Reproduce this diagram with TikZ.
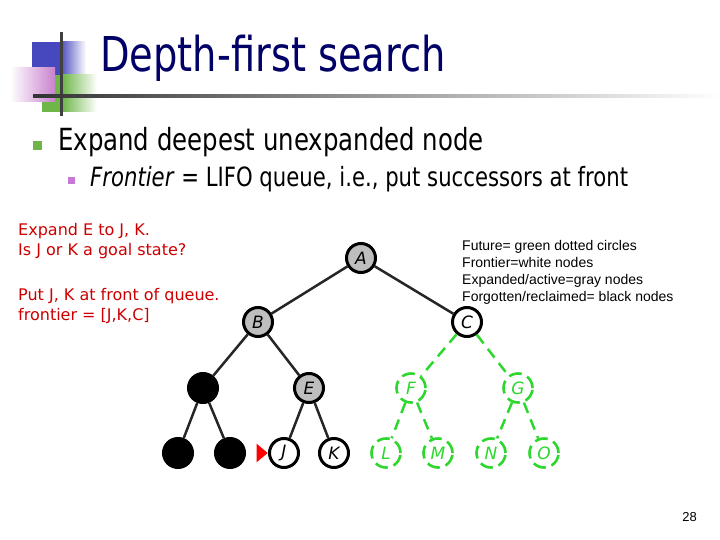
\documentclass[tikz,border=0pt]{standalone}
\usepackage{fontspec}
\setmainfont{DejaVu Sans}
\newfontfamily\narrowfont{DejaVu Sans}[FakeStretch=0.8]
\newfontfamily\legendfont{Liberation Sans}
\usetikzlibrary{arrows.meta,positioning,shapes.geometric}
\definecolor{titleblue}{RGB}{0,0,102}
\definecolor{noteRed}{RGB}{204,0,0}
\definecolor{futuregreen}{RGB}{45,215,45}
\definecolor{nodegray}{RGB}{190,190,190}
\definecolor{decoblue}{RGB}{72,72,190}
\definecolor{decogreen}{RGB}{110,182,72}
\definecolor{decopink}{RGB}{200,130,205}
\definecolor{bulletgreen}{RGB}{110,180,70}
\definecolor{bulletpink}{RGB}{200,120,215}
\newcommand\treeletter{\itshape\fontsize{17}{17}\selectfont}
\tikzset{
  expanded/.style={circle, draw=black, fill=nodegray, line width=3pt, minimum size=29pt, inner sep=0pt, font=\treeletter},
  frontier/.style={circle, draw=black, fill=white, line width=3pt, minimum size=29pt, inner sep=0pt, font=\treeletter},
  forgotten/.style={circle, draw=black, fill=black, line width=3pt, minimum size=29pt, inner sep=0pt},
  future/.style={circle, draw=futuregreen, text=futuregreen, dash pattern=on 13pt off 6pt, line width=2.6pt, minimum size=29pt, inner sep=0pt, font=\treeletter},
  treeedge/.style={line width=2.5pt, black!85},
  futureedge/.style={line width=2.5pt, futuregreen, dash pattern=on 11pt off 7pt},
  pointer/.style={isosceles triangle, isosceles triangle apex angle=80, fill=red, minimum height=11pt, inner sep=0pt},
  bullet/.style={rectangle, inner sep=0pt},
  note/.style={anchor=north west, inner sep=0pt, align=left, text=noteRed, font=\fontsize{16}{20}\selectfont},
  legend/.style={anchor=north west, inner sep=0pt, align=left, font=\legendfont\fontsize{14}{17}\selectfont}
}

\begin{document}
\begin{tikzpicture}[x=1pt, y=-1pt]
  \useasboundingbox (0,0) rectangle (720,540);
  % title decoration
  \fill[decoblue] (32,42) rectangle (60,75);
  \shade[left color=decoblue, right color=white] (60,42) rectangle (86,75);
  \fill[decogreen] (42,75) rectangle (62,112);
  \shade[left color=decogreen, right color=white] (62,75) rectangle (97,112);
  \shade[left color=white, right color=decopink] (10,68) rectangle (55,102);
  \fill[black!75] (60,32) rectangle (63,116);
  \shade[left color=black!80, right color=white] (33,95) rectangle (720,98);
  \node[anchor=base west, inner sep=0pt, text=titleblue, font=\narrowfont\fontsize{48}{50}\selectfont] (title) at (100,72) {Depth-first search};

  % bullets
  \node[bullet, fill=bulletgreen, minimum size=9pt] (dot1) at (37.5,145.5) {};
  \node[anchor=base west, inner sep=0pt, font=\narrowfont\fontsize{30.5}{31}\selectfont] (point) at (58,151) {Expand deepest unexpanded node};
  \node[bullet, fill=bulletpink, minimum size=7pt] (dot2) at (71.5,181) {};
  \node[anchor=base west, inner sep=0pt, font=\narrowfont\fontsize{26.5}{27}\selectfont] (subpoint) at (90,187) {\textit{Frontier} = LIFO queue, i.e., put successors at front};

  % notes
  \node[note] (step) at (18,223) {Expand E to J, K.\\Is J or K a goal state?};
  \node[note] (queue) at (18,288) {Put J, K at front of queue.\\frontier = [J,K,C]};
  \node[legend] (key) at (462,240) {Future= green dotted circles\\Frontier=white nodes\\Expanded/active=gray nodes\\Forgotten/reclaimed= black nodes};

  % tree
  \node[expanded] (a) at (361,258) {A};
  \node[expanded] (b) at (258,322) {B};
  \node[frontier] (c) at (467,322) {C};
  \node[forgotten] (d) at (203,388) {};
  \node[expanded] (e) at (309,388) {E};
  \node[future] (f) at (411,388) {F};
  \node[future] (g) at (518,388) {G};
  \node[forgotten] (h) at (178,453) {};
  \node[forgotten] (i) at (230,453) {};
  \node[frontier] (j) at (284,453) {J};
  \node[frontier] (k) at (334,453) {K};
  \node[future] (l) at (386,453) {L};
  \node[future] (m) at (438,453) {M};
  \node[future] (n) at (491,453) {N};
  \node[future] (o) at (544,453) {O};
  \draw[treeedge] (a)--(b); \draw[treeedge] (a)--(c);
  \draw[treeedge] (b)--(d); \draw[treeedge] (b)--(e);
  \draw[treeedge] (d)--(h); \draw[treeedge] (d)--(i);
  \draw[treeedge] (e)--(j); \draw[treeedge] (e)--(k);
  \draw[futureedge] (c)--(f); \draw[futureedge] (c)--(g);
  \draw[futureedge] (f)--(l); \draw[futureedge] (f)--(m);
  \draw[futureedge] (g)--(n); \draw[futureedge] (g)--(o);
  \node[pointer, left=0pt of j] (mark) {};

  \node[anchor=base east, inner sep=0pt, font=\legendfont\fontsize{13}{13}\selectfont] (page) at (697,521) {28};
\end{tikzpicture}
\end{document}
